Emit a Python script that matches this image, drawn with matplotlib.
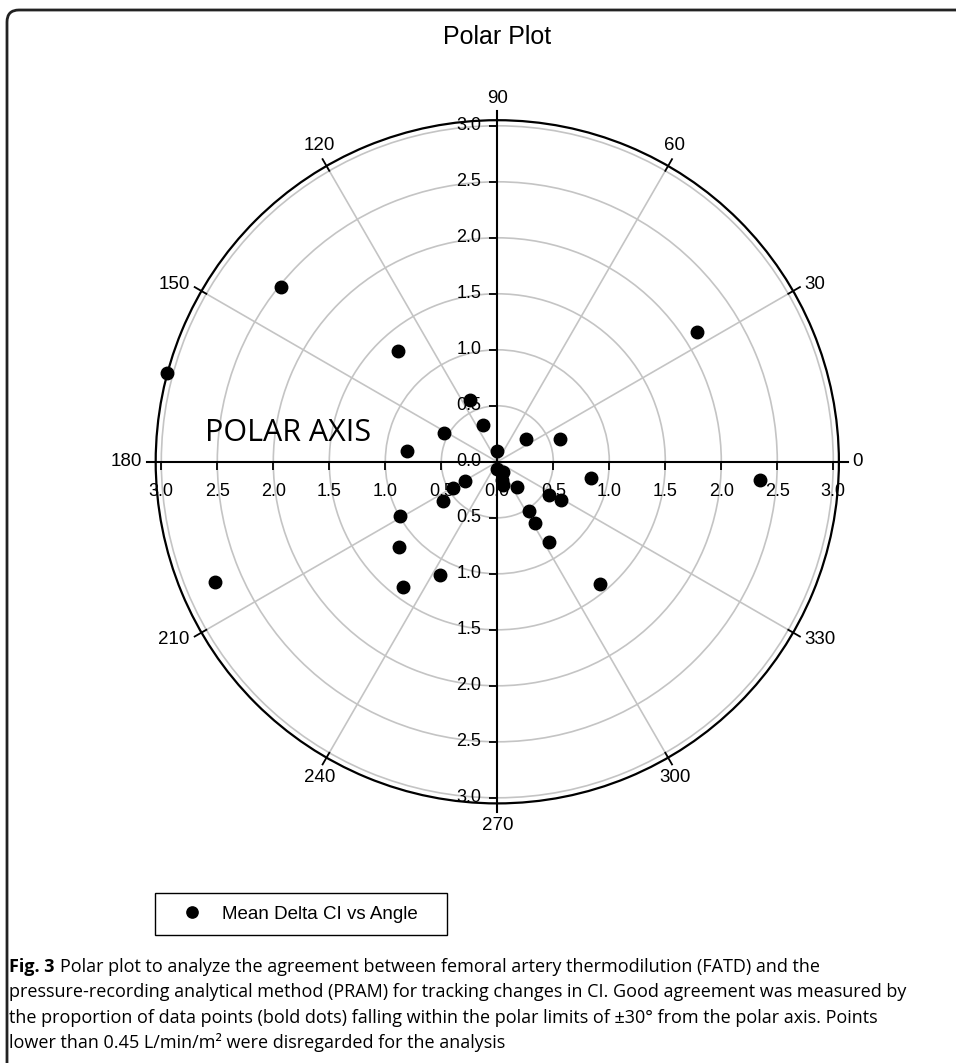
import numpy as np
import matplotlib
matplotlib.use('Agg')
import matplotlib.pyplot as plt
from matplotlib.patches import FancyBboxPatch, Rectangle
from matplotlib.markers import TICKLEFT, TICKDOWN

# mean delta CI (radius) and angle in degrees
delta_ci = [0.35, 0.60, 0.33, 0.60, 0.10, 0.06, 0.10, 0.17, 0.21, 0.29,
            0.85, 0.55, 0.66, 0.52, 0.64, 0.85, 1.43, 2.48, 1.33, 3.05,
            2.13, 2.35, 0.34, 0.46, 0.60, 0.99, 1.16, 1.13, 1.40, 2.74,
            0.54, 0.81]
angle_deg = [111, 114, 38, 20, 93, 270, 299, 284, 283, 308,
             350, 327, 329, 303, 302, 303, 310, 141, 132, 165,
             33, 356, 211, 211, 216, 209, 221, 243, 233, 203,
             152, 173]

angle_ticks = list(range(0, 360, 30))
ring_ticks = [0.5, 1.0, 1.5, 2.0, 2.5, 3.0]

W, H = 956, 1063
fig = plt.figure(figsize=(W / 100, H / 100), dpi=100)

# rounded frame around the whole figure (cut at right and bottom)
frame = FancyBboxPatch((0.07, -1.0), 11.0, 11.53, boxstyle='round,pad=0,rounding_size=0.12',
                       transform=fig.dpi_scale_trans, fill=False, edgecolor='#222222', lw=2)
fig.patches.append(frame)

fig.text(497 / W, 1 - 37 / H, 'Polar Plot', fontsize=18, family='Liberation Sans',
         ha='center', va='center')

cx, cy, R = 497.3, 461.8, 341.6
ax = fig.add_axes([(cx - R) / W, 1 - (cy + R) / H, 2 * R / W, 2 * R / H], projection='polar')
rmax = 3.05
ax.set_ylim(0, rmax)
ax.set_thetagrids(angle_ticks, [''] * len(angle_ticks))
ax.set_rgrids(ring_ticks, [''] * len(ring_ticks))
ax.grid(True, color='#c4c4c4', lw=1.2)
ax.spines['polar'].set_color('black')
ax.spines['polar'].set_linewidth(1.6)
ax.tick_params(length=0)

# black cross through the centre
for a in [0, 90, 180, 270]:
    t = np.deg2rad(a)
    ax.plot([t, t], [0, 3.13], color='black', lw=1.5, clip_on=False, zorder=3)

# small ticks on the outer circle
for a in angle_ticks:
    if a % 90:
        t = np.deg2rad(a)
        ax.plot([t, t], [3.0, 3.12], color='black', lw=1.3, clip_on=False, zorder=3)

# angle labels
for a in angle_ticks:
    t = np.deg2rad(a)
    c, s = np.cos(t), np.sin(t)
    ha = 'left' if c > 0.6 else ('right' if c < -0.6 else 'center')
    va = 'bottom' if s > 0.6 else ('top' if s < -0.6 else 'center')
    ax.text(t, 3.17, str(a), fontsize=13.5, family='Liberation Sans', ha=ha, va=va, clip_on=False)

# radial ticks and labels on the cross
lab_kw = dict(fontsize=13, family='Liberation Sans', textcoords='offset points', clip_on=False)
for r in ring_ticks:
    for a in [90, 270]:
        t = np.deg2rad(a)
        ax.plot([t], [r], marker=TICKLEFT, markersize=6, color='black', mew=1.3, clip_on=False)
        ax.annotate('%.1f' % r, (t, r), xytext=(-11.5, 0), ha='right', va='center', **lab_kw)
    for a in [0, 180]:
        t = np.deg2rad(a)
        ax.plot([t], [r], marker=TICKDOWN, markersize=6, color='black', mew=1.3, clip_on=False)
        ax.annotate('%.1f' % r, (t, r), xytext=(0, -21.5), ha='center', va='center', **lab_kw)
ax.annotate('0.0', (0, 0), xytext=(-11.5, 0), ha='right', va='center', **lab_kw)
ax.annotate('0.0', (0, 0), xytext=(0, -21.5), ha='center', va='center', **lab_kw)

ax.text(np.deg2rad(174.3), 2.62, 'POLAR AXIS', fontsize=22, family='Open Sans',
        ha='left', va='center')

pts, = ax.plot(np.deg2rad(angle_deg), delta_ci, 'o', color='black', markersize=9,
               clip_on=False, zorder=5, label='Mean Delta CI vs Angle')

# legend: box drawn separately so the padding matches the original
leg = fig.legend(handles=[pts], loc='center left', bbox_to_anchor=(181 / W, 1 - 914 / H),
                 frameon=False, prop={'family': 'Liberation Sans', 'size': 13.5},
                 markerscale=0.9, borderpad=0, handlelength=1.2, handletextpad=1.0,
                 borderaxespad=0)
fig.patches.append(Rectangle((155 / W, 1 - 935 / H), 292 / W, 42 / H, transform=fig.transFigure,
                             fill=False, edgecolor='black', lw=1.0))

# caption
cap_kw = dict(fontsize=13, family='Open Sans', va='baseline')
y1 = 1 - 972 / H
bold = fig.text(9 / W, y1, 'Fig. 3', fontweight='bold', **cap_kw)
fig.canvas.draw()
bb = bold.get_window_extent()
fig.text((bb.x1 + 5) / W, y1, 'Polar plot to analyze the agreement between femoral artery '
         'thermodilution (FATD) and the', **cap_kw)
lines = ['pressure-recording analytical method (PRAM) for tracking changes in CI. Good '
         'agreement was measured by',
         'the proportion of data points (bold dots) falling within the polar limits of '
         '\u00b130\u00b0 from the polar axis. Points',
         'lower than 0.45 L/min/m\u00b2 were disregarded for the analysis']
for i, ln in enumerate(lines):
    fig.text(9 / W, 1 - (972 + 25.3 * (i + 1)) / H, ln, **cap_kw)

fig.savefig('out.png', dpi=100)
